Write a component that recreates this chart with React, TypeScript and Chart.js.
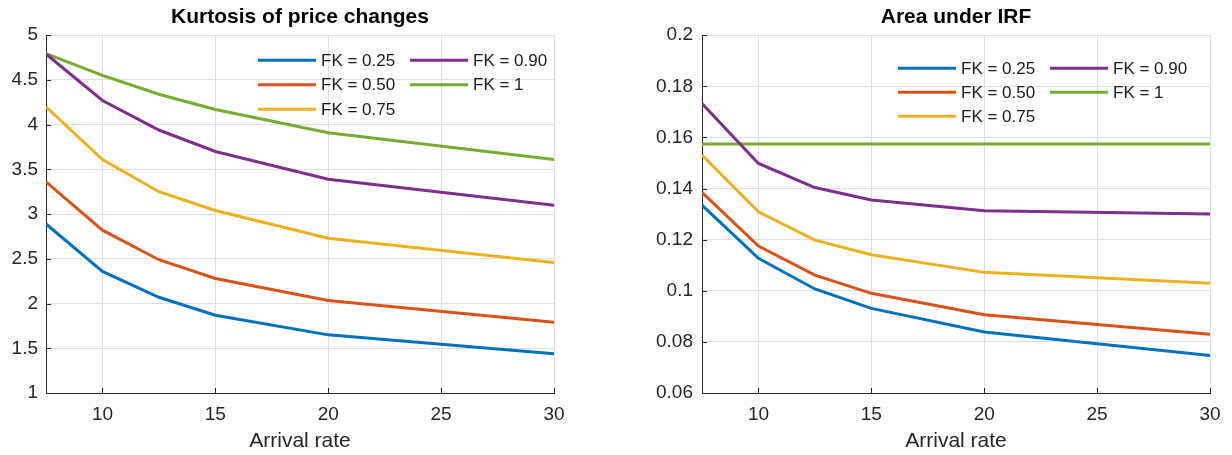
import React, { useEffect, useRef } from "react";
import { Chart, registerables } from "chart.js";

Chart.register(...registerables);

// ---------------- data ----------------
const arrivalRates = [7.5, 10, 12.5, 15, 20, 30];
const seriesLabels = ["FK = 0.25", "FK = 0.50", "FK = 0.75", "FK = 0.90", "FK = 1"];
const seriesColors = ["#0072BD", "#D95319", "#EDB120", "#7E2F8E", "#77AC30"];

const kurt025 = [2.89, 2.36, 2.07, 1.87, 1.65, 1.44];
const kurt050 = [3.36, 2.82, 2.49, 2.28, 2.035, 1.79];
const kurt075 = [4.2, 3.61, 3.25, 3.04, 2.73, 2.46];
const kurt090 = [4.79, 4.27, 3.94, 3.7, 3.39, 3.1];
const kurt100 = [4.795, 4.55, 4.34, 4.17, 3.91, 3.61];

const irf025 = [0.1335, 0.1127, 0.1007, 0.0931, 0.0839, 0.0747];
const irf050 = [0.1385, 0.1175, 0.1061, 0.099, 0.0906, 0.083];
const irf075 = [0.1531, 0.1309, 0.1198, 0.1141, 0.1072, 0.1029];
const irf090 = [0.1733, 0.1498, 0.1404, 0.1355, 0.1313, 0.13];
const irf100 = [0.1574, 0.1574, 0.1574, 0.1574, 0.1574, 0.1574];

const xTicks = [10, 15, 20, 25, 30];
const kurtTicks = [1, 1.5, 2, 2.5, 3, 3.5, 4, 4.5, 5];
const irfTicks = [0.06, 0.08, 0.1, 0.12, 0.14, 0.16, 0.18, 0.2];

const kurtSeries = [kurt025, kurt050, kurt075, kurt090, kurt100];
const irfSeries = [irf025, irf050, irf075, irf090, irf100];

// ---------------- styling ----------------
const FONT = "'Liberation Sans', Arial, Helvetica, sans-serif";
const AXIS_COLOR = "#262626";
const GRID_COLOR = "#dfdfdf";

Chart.defaults.font.family = FONT;

const matlabPlugin = {
  id: "matlabExtras",
  afterDraw(chart: any, _args: any, opts: any) {
    const { ctx, chartArea } = chart;
    const xs = chart.scales.x;
    const ys = chart.scales.y;
    ctx.save();
    // inward ticks
    ctx.strokeStyle = AXIS_COLOR;
    ctx.lineWidth = 1;
    ctx.beginPath();
    xs.ticks.forEach((t: any) => {
      const px = Math.round(xs.getPixelForValue(t.value)) + 0.5;
      ctx.moveTo(px, chartArea.bottom);
      ctx.lineTo(px, chartArea.bottom - 5);
    });
    ys.ticks.forEach((t: any) => {
      const py = Math.round(ys.getPixelForValue(t.value)) + 0.5;
      ctx.moveTo(chartArea.left, py);
      ctx.lineTo(chartArea.left + 5, py);
    });
    ctx.stroke();

    // legend (two columns, no box)
    const lg = opts.legend;
    const datasets = chart.data.datasets;
    ctx.font = `${lg.fontSize}px ${FONT}`;
    ctx.textBaseline = "middle";
    ctx.textAlign = "left";
    datasets.forEach((ds: any, i: number) => {
      const col = i < lg.perColumn ? 0 : 1;
      const row = i < lg.perColumn ? i : i - lg.perColumn;
      const x0 = chartArea.left + lg.x + col * lg.colGap;
      const y0 = chartArea.top + lg.y + row * lg.rowGap;
      ctx.strokeStyle = ds.borderColor;
      ctx.lineWidth = 3;
      ctx.beginPath();
      ctx.moveTo(x0, y0);
      ctx.lineTo(x0 + lg.lineLen, y0);
      ctx.stroke();
      ctx.fillStyle = "#1a1a1a";
      ctx.fillText(ds.label, x0 + lg.lineLen + 5, y0 + 1);
    });
    ctx.restore();
  },
};

function buildConfig(
  title: string,
  series: number[][],
  yMin: number,
  yMax: number,
  yTicks: number[],
  yAxisWidth: number,
  yPad: number,
  rightPad: number,
  legend: any
): any {
  return {
    type: "line",
    data: {
      datasets: series.map((vals, i) => ({
        label: seriesLabels[i],
        data: arrivalRates.map((x, j) => ({ x, y: vals[j] })),
        borderColor: seriesColors[i],
        backgroundColor: seriesColors[i],
        borderWidth: 3,
        pointRadius: 0,
        tension: 0,
        fill: false,
      })),
    },
    options: {
      responsive: false,
      animation: false,
      layout: { padding: { left: 0, right: rightPad, top: 0, bottom: 0 } },
      plugins: {
        legend: { display: false },
        tooltip: { enabled: false },
        title: {
          display: true,
          text: title,
          fullSize: false,
          color: "#000000",
          font: { size: 21, weight: "bold", family: FONT },
          padding: { top: 5, bottom: 5 },
        },
        matlabExtras: { legend },
      },
      scales: {
        x: {
          type: "linear",
          min: 7.5,
          max: 30,
          afterBuildTicks: (s: any) => {
            s.ticks = xTicks.map((v) => ({ value: v }));
          },
          afterFit: (s: any) => {
            s.height = 62;
          },
          grid: { color: GRID_COLOR, lineWidth: 1, drawTicks: false },
          border: { color: AXIS_COLOR, width: 1 },
          ticks: {
            color: AXIS_COLOR,
            font: { size: 19, family: FONT },
            padding: 10,
            maxRotation: 0,
            autoSkip: false,
          },
          title: {
            display: true,
            text: "Arrival rate",
            color: AXIS_COLOR,
            font: { size: 21, family: FONT },
            padding: { top: 0, bottom: 1 },
          },
        },
        y: {
          type: "linear",
          min: yMin,
          max: yMax,
          afterBuildTicks: (s: any) => {
            s.ticks = yTicks.map((v) => ({ value: v }));
          },
          afterFit: (s: any) => {
            s.width = yAxisWidth;
          },
          grid: { color: GRID_COLOR, lineWidth: 1, drawTicks: false },
          border: { color: AXIS_COLOR, width: 1 },
          ticks: {
            color: AXIS_COLOR,
            font: { size: 19, family: FONT },
            padding: yPad,
            autoSkip: false,
            callback: (v: any) => String(+Number(v).toFixed(4)),
          },
        },
      },
    },
    plugins: [matlabPlugin],
  };
}

function ChartBox(props: { left: number; config: any }) {
  const ref = useRef<HTMLCanvasElement | null>(null);
  useEffect(() => {
    if (!ref.current) return;
    const chart = new Chart(ref.current, props.config);
    return () => chart.destroy();
  }, []);
  return (
    <div style={{ position: "absolute", left: props.left, top: 0, width: 616, height: 455 }}>
      <canvas ref={ref} width={616} height={455} style={{ display: "block" }} />
    </div>
  );
}

export default function App() {
  const leftCfg = buildConfig(
    "Kurtosis of price changes",
    kurtSeries,
    1,
    5,
    kurtTicks,
    46,
    8,
    62,
    { x: 212, y: 25, colGap: 152, rowGap: 24.5, lineLen: 58, perColumn: 3, fontSize: 17 }
  );
  const rightCfg = buildConfig(
    "Area under IRF",
    irfSeries,
    0.06,
    0.2,
    irfTicks,
    86,
    9,
    22,
    { x: 196, y: 33, colGap: 152, rowGap: 24, lineLen: 58, perColumn: 3, fontSize: 17 }
  );
  return (
    <div style={{ position: "absolute", left: 0, top: 0, width: 1232, height: 455, background: "#ffffff" }}>
      <ChartBox left={0} config={leftCfg} />
      <ChartBox left={616} config={rightCfg} />
    </div>
  );
}
